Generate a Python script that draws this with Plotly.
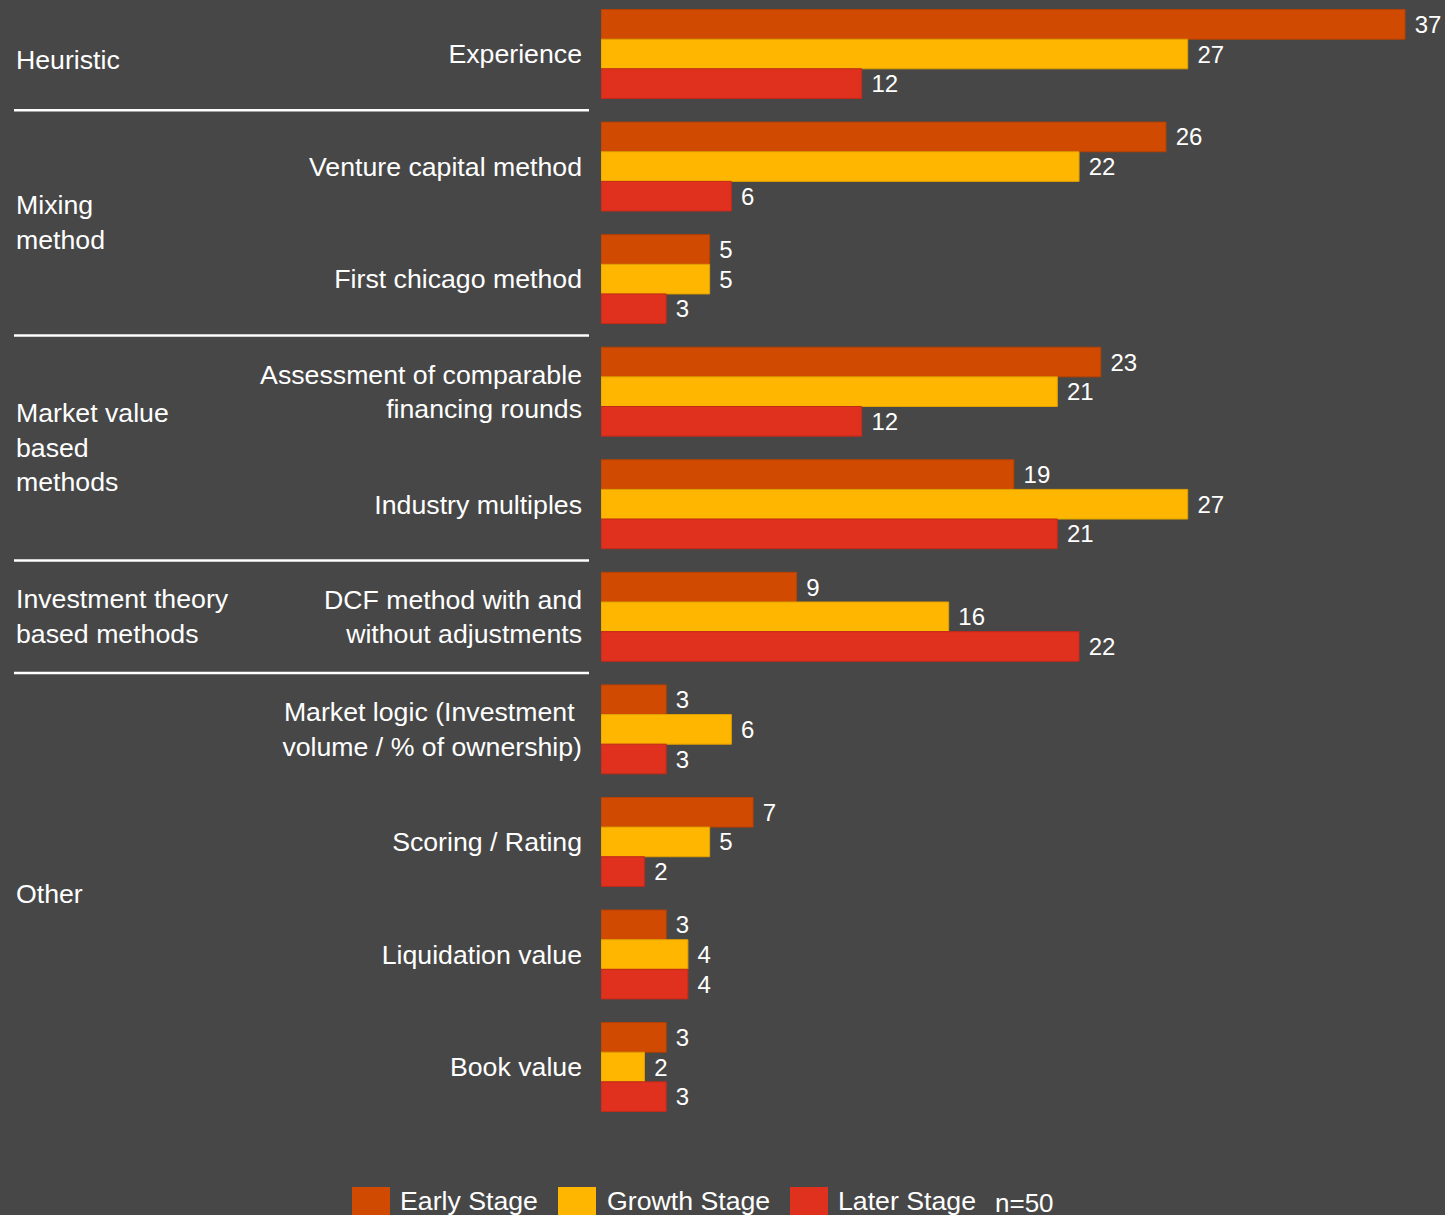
import plotly.graph_objects as go

# Valuation methods (y categories) and counts per investment stage
methods = [
    "Experience",
    "Venture capital method",
    "First chicago method",
    "Assessment of comparable<br>financing rounds",
    "Industry multiples",
    "DCF method with and<br>without adjustments",
    "Market logic (Investment\u00a0<br>volume / % of ownership)",
    "Scoring / Rating",
    "Liquidation value",
    "Book value",
]
early_stage = [37, 26, 5, 23, 19, 9, 3, 7, 3, 3]
growth_stage = [27, 22, 5, 21, 27, 16, 6, 5, 4, 2]
later_stage = [12, 6, 3, 12, 21, 22, 3, 2, 4, 3]

series_names = ["Early Stage", "Growth Stage", "Later Stage"]
series_values = [early_stage, growth_stage, later_stage]
series_colors = ["#D04A02", "#FFB600", "#E0301E"]
series_edges = ["#B84000", "#E0A000", "#C42A1A"]

# Method groups: label, first index, last index
group_labels = ["Heuristic", "Mixing<br>method", "Market value<br>based<br>methods",
                "Investment theory<br>based methods", "Other"]
group_spans = [(0, 0), (1, 2), (3, 4), (5, 5), (6, 9)]
sample_note = "n=50"

# Small vertical nudges (px) for the group labels
group_label_shift = [-6, 0, 0, 0, 4]

FONT = "Liberation Sans, Arial, sans-serif"
BG = "#474747"
LABEL_SIZE = 26.7

W, H = 1445, 1215
ML, MR, MT, MB = 601, 0, 0, 90
plot_w = W - ML - MR
plot_h = H - MT - MB

fig = go.Figure()
ypos = list(range(len(methods)))
for name, vals, col, edge in zip(series_names, series_values, series_colors, series_edges):
    fig.add_trace(go.Bar(
        y=ypos, x=vals, name=name, orientation="h",
        marker=dict(color=col, line=dict(color=edge, width=1)),
        text=[f" {v}" for v in vals], textposition="outside",
        textfont=dict(family=FONT, size=24, color="#FFFFFF"),
        constraintext="none", cliponaxis=False, showlegend=False,
        hoverinfo="skip",
    ))

def px_to_paper_x(px):
    return (px - ML) / plot_w

def px_to_paper_y(py):
    return (H - MB - py) / plot_h

annotations = []
shapes = []

# Group labels on the far left
for label, (a, b), shift in zip(group_labels, group_spans, group_label_shift):
    annotations.append(dict(
        x=px_to_paper_x(14), xref="paper", xanchor="left",
        y=(a + b) / 2, yref="y", yanchor="middle", yshift=shift,
        text=label, showarrow=False, align="left",
        font=dict(family=FONT, size=LABEL_SIZE, color="#FFFFFF"),
    ))

# Separator lines between groups
for (a, b) in group_spans[:-1]:
    shapes.append(dict(
        type="line", xref="paper", yref="y",
        x0=px_to_paper_x(14), x1=px_to_paper_x(589),
        y0=b + 0.5, y1=b + 0.5,
        line=dict(color="#FFFFFF", width=2.5),
    ))

# Legend drawn as coloured squares with labels along the bottom
legend_sq_x = [352, 558, 790]
legend_txt_x = [400, 607, 838]
for name, col, sx, tx in zip(series_names, series_colors, legend_sq_x, legend_txt_x):
    shapes.append(dict(
        type="rect", xref="paper", yref="paper",
        x0=px_to_paper_x(sx), x1=px_to_paper_x(sx + 38),
        y0=px_to_paper_y(1187), y1=px_to_paper_y(1225),
        fillcolor=col, line=dict(width=0),
    ))
    annotations.append(dict(
        x=px_to_paper_x(tx - 2), xref="paper", xanchor="left",
        y=px_to_paper_y(1201), yref="paper", yanchor="middle",
        text=name, showarrow=False,
        font=dict(family=FONT, size=LABEL_SIZE, color="#FFFFFF"),
    ))
annotations.append(dict(
    x=px_to_paper_x(993), xref="paper", xanchor="left",
    y=px_to_paper_y(1203), yref="paper", yanchor="middle",
    text=sample_note, showarrow=False,
    font=dict(family=FONT, size=26, color="#FFFFFF"),
))

px_per_unit = 21.73
group_px = 112.56
y_top = -54 / group_px
y_bottom = y_top + plot_h / group_px

fig.update_layout(
    width=W, height=H,
    margin=dict(l=ML, r=MR, t=MT, b=MB, pad=0),
    paper_bgcolor=BG, plot_bgcolor=BG,
    barmode="group", bargap=0.21, bargroupgap=0,
    font=dict(family=FONT, color="#FFFFFF"),
    xaxis=dict(range=[0, plot_w / px_per_unit], visible=False, fixedrange=True),
    yaxis=dict(
        range=[y_bottom, y_top],
        tickvals=ypos, ticktext=methods,
        tickfont=dict(family=FONT, size=LABEL_SIZE, color="#FFFFFF"),
        ticks="", showgrid=False, zeroline=False, showline=False,
        ticklabelstandoff=18, automargin=False, fixedrange=True,
    ),
    shapes=shapes, annotations=annotations,
    showlegend=False,
)

fig.write_html("out.html")
